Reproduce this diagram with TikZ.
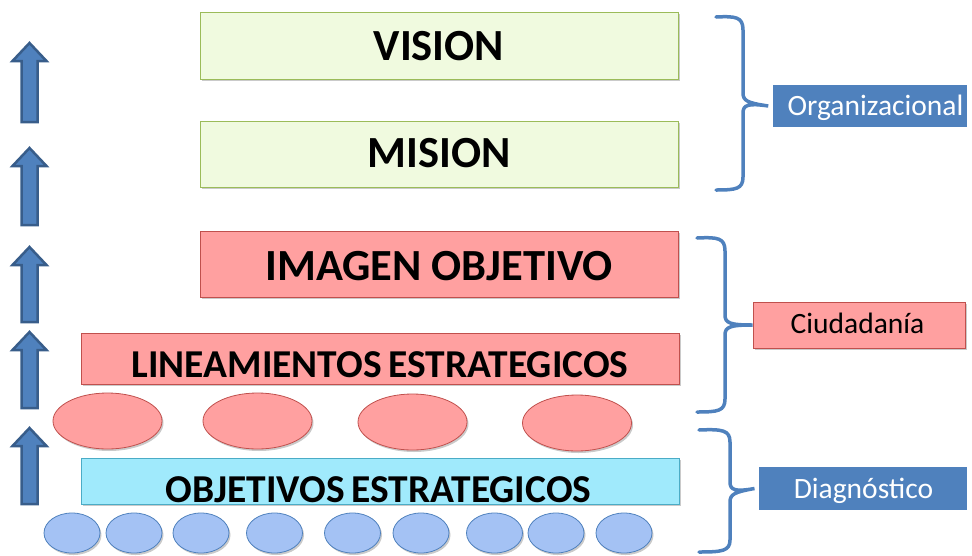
\documentclass[tikz,border=0pt]{standalone}
\usepackage{fontspec}
\setmainfont{Carlito}
\usetikzlibrary{shadows,shapes.geometric}
\definecolor{gfill}{HTML}{F0FADF}
\definecolor{gline}{HTML}{9BBB59}
\definecolor{pfill}{HTML}{FFA0A0}
\definecolor{pline}{HTML}{C0504D}
\definecolor{cfill}{HTML}{A0EAFC}
\definecolor{cline}{HTML}{4BACC6}
\definecolor{bfill}{HTML}{A4C2F4}
\definecolor{acc}{HTML}{4F81BD}
\definecolor{accd}{HTML}{385D8A}
\tikzset{
  shad/.style={drop shadow={shadow xshift=1.5pt,shadow yshift=-2pt,opacity=0.35,fill=black!60}},
  box/.style={rectangle,inner sep=0pt,line width=1pt,shad},
  greenbox/.style={box,draw=gline,fill=gfill},
  pinkbox/.style={box,draw=pline,fill=pfill},
  cyanbox/.style={box,draw=cline,fill=cfill},
  redell/.style={ellipse,draw=pline,fill=pfill,line width=0.8pt,inner sep=0pt,minimum width=109pt,minimum height=56pt,shad},
  blueell/.style={ellipse,draw=acc,fill=bfill,line width=0.8pt,inner sep=0pt,minimum width=56pt,minimum height=40pt,shad},
  title/.style={anchor=base,inner sep=0pt,font=\bfseries\fontsize{44.5}{48}\selectfont},
  subtitle/.style={anchor=base,inner sep=0pt,font=\bfseries\fontsize{39.5}{42}\selectfont},
  lab/.style={anchor=base,inner sep=0pt,font=\fontsize{29.5}{32}\selectfont},
  bluelab/.style={rectangle,inner sep=0pt,fill=acc,draw=white,line width=4.5pt,shad},
  pinklab/.style={rectangle,inner sep=0pt,fill=pfill,draw=pline,line width=1pt,shad},
  brace/.style={draw=acc,line width=3.5pt,line cap=round},
  uparrowshape/.style={fill=acc,draw=accd,line width=2.5pt,line join=miter},
  pics/uparr/.style={code={
    \path[uparrowshape] (0,0) -- (17,18) -- (8,18) -- (8,#1) -- (-8,#1) -- (-8,18) -- (-17,18) -- cycle;
  }}
}
\begin{document}
\begin{tikzpicture}[x=1pt,y=-1pt]
\useasboundingbox (0,0) rectangle (972,555);

% arrows
\pic at (29.5,43) {uparr=79};
\pic at (29.5,148) {uparr=77};
\pic at (29.5,247) {uparr=75};
\pic at (29.5,332) {uparr=76};
\pic at (29.5,428) {uparr=76};

% main boxes
\node[greenbox,minimum width=478pt,minimum height=67pt] (vision) at (439,45.5) {};
\node[title] (tvision) at (439,60) {VISION};
\node[greenbox,minimum width=478pt,minimum height=66pt] (mision) at (439,154) {};
\node[title] (tmision) at (439,167) {MISION};
\node[pinkbox,minimum width=478pt,minimum height=66pt] (imagen) at (439,264) {};
\node[title] (timagen) at (439,280) {IMAGEN OBJETIVO};
\node[pinkbox,minimum width=598pt,minimum height=51pt] (linea) at (380,358.5) {};
\node[subtitle] (tlinea) at (380,377) {LINEAMIENTOS\hspace{-2pt} ESTRATEGICOS};

% red ellipses
\node[redell] (r1) at (107.5,421) {};
\node[redell] (r2) at (257.5,421) {};
\node[redell] (r3) at (412.5,422) {};
\node[redell] (r4) at (577,423) {};

\node[cyanbox,minimum width=598pt,minimum height=46pt] (objet) at (380,481) {};
\node[subtitle] (tobjet) at (378.5,502) {OBJETIVOS\hspace{-2pt} ESTRATEGICOS};

% blue ellipses
\foreach \i/\x in {1/72,2/134,3/201,4/274.5,5/352.5,6/421,7/494.5,8/556,9/624}
  \node[blueell] (b\i) at (\x,533) {};

% labels
\node[bluelab,minimum width=199pt,minimum height=47pt] (org) at (870,106) {};
\node[lab,text=white] (torg) at (875.5,115) {Organizacional};
\node[pinklab,minimum width=212pt,minimum height=46pt] (ciu) at (859,325) {};
\node[lab] (tciu) at (857.5,333) {Ciudadanía};
\node[bluelab,minimum width=212.5pt,minimum height=47.5pt] (dia) at (863,488.5) {};
\node[lab,text=white] (tdia) at (863.5,498) {Diagnóstico};

% braces
\path (716,17) coordinate (o1) (716,190) coordinate (o2);
\draw[brace] (o1) .. controls (736,16) and (743,17) .. (743,30) -- (743,93)
  .. controls (743,101) and (748,103) .. (org.west)
  .. controls (748,103) and (743,105) .. (743,113) -- (743,177)
  .. controls (743,189) and (736,190) .. (o2);
\path (697,238) coordinate (c1) (697,412) coordinate (c2);
\draw[brace] (c1) .. controls (718,237) and (725,238) .. (725,251) -- (725,315)
  .. controls (725,323) and (730,325) .. (ciu.west)
  .. controls (730,325) and (725,327) .. (725,335) -- (725,399)
  .. controls (725,411) and (718,412) .. (c2);
\path (699,430) coordinate (d1) (699,552) coordinate (d2);
\draw[brace] (d1) .. controls (722,429) and (730,430) .. (730,442) -- (730,482)
  .. controls (730,490) and (735,492) .. (dia.west)
  .. controls (735,492) and (730,494) .. (730,502) -- (730,540)
  .. controls (730,551) and (722,552) .. (d2);
\end{tikzpicture}
\end{document}
